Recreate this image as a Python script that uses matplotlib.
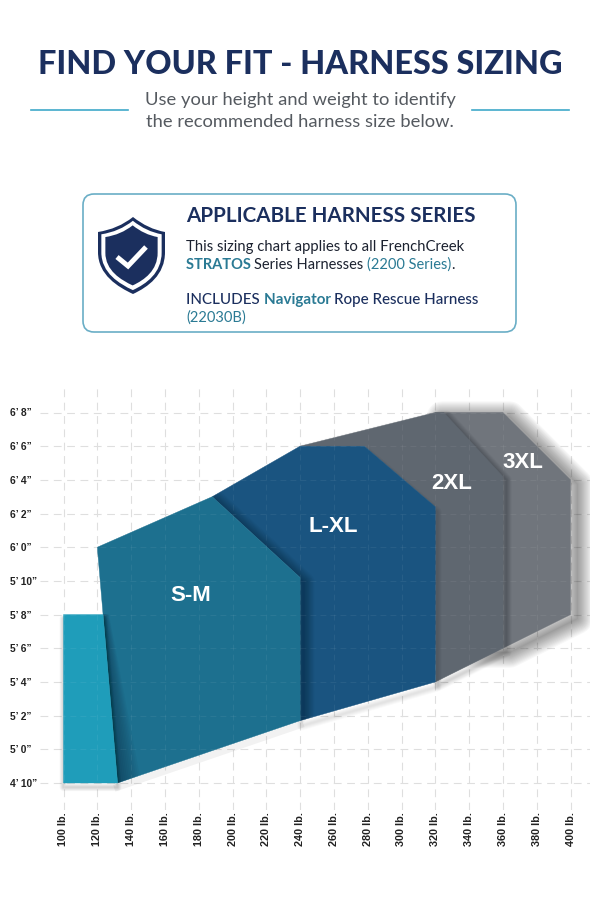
import matplotlib
matplotlib.use('Agg')
import numpy as np
import matplotlib.pyplot as plt
from matplotlib.patches import Polygon, FancyBboxPatch, PathPatch
from matplotlib.path import Path

# chart values, weight in lb and height in inches
weight_ticks = list(range(100, 401, 20))
weight_labels = [str(w) + ' lb.' for w in weight_ticks]
height_ticks = list(range(58, 81, 2))
height_labels = ['4’ 10”', '5’ 0”', '5’ 2”', '5’ 4”', '5’ 6”', '5’ 8”', '5’ 10”',
                 '6’ 0”', '6’ 2”', '6’ 4”', '6’ 6”', '6’ 8”']

xs_weight = [100, 100, 123.4, 132]
xs_height = [58, 68, 68, 58]
sm_weight = [120, 188, 240, 240, 132]
sm_height = [72, 75, 70.2, 61.7, 58]
lxl_weight = [188, 240, 278, 320, 320, 240, 240]
lxl_height = [75, 78, 78, 74.4, 64, 61.7, 70.2]
xl2_weight = [240, 320, 325, 360, 360, 320, 320, 278]
xl2_height = [78, 80, 80, 76.2, 66, 64, 74.4, 78]
xl3_weight = [320, 360, 400, 400, 360, 320]
xl3_height = [80, 80, 76, 68, 66, 66]

NAVY = '#1b2f5e'
TEAL = '#2a7a94'
plt.rcParams['font.family'] = ['Lato', 'DejaVu Sans']

fig = plt.figure(figsize=(6, 9), dpi=100)

# chart axes, limits chosen so the grid runs past the plot area
px_lb = (570.5 - 63.5) / 300
px_in = (783 - 412.5) / 22
left, right, top, bottom = 40, 590, 385, 810
ax = fig.add_axes([left / 600, (900 - bottom) / 900, (right - left) / 600, (bottom - top) / 900])
ax.set_xlim(100 - (63.5 - left) / px_lb, 400 + (right - 570.5) / px_lb)
ax.set_ylim(58 - (bottom - 783) / px_in, 80 + (412.5 - top) / px_in)
for s in ax.spines.values():
    s.set_visible(False)
ax.set_xticks(weight_ticks)
ax.set_xticklabels(weight_labels, rotation=90, fontsize=7.8, fontweight='bold',
                   family='Liberation Sans', color='#222222')
ax.set_yticks(height_ticks)
ax.set_yticklabels(height_labels, fontsize=7.4, fontweight='bold', ha='left',
                   family='Liberation Sans', color='#222222')
ax.tick_params(length=0)
ax.tick_params(axis='y', pad=21.6)
ax.tick_params(axis='x', pad=1.5)
ax.set_axisbelow(True)
ax.grid(True, color='#dedede', lw=0.8, dashes=(7, 5))


def draw_shape(wts, hts, color, z, shadow_w, dx=2, dy=-0.15, shadow_a=0.012, clip=None):
    pts = np.column_stack([wts, hts])
    shifted = pts + [dx, dy]
    # soft shadow made of stacked wide outlines
    for w in np.linspace(shadow_w, 1, 14):
        p = Polygon(shifted, closed=True, fill=False, ec='black', lw=w,
                    alpha=shadow_a, zorder=z, joinstyle='round')
        ax.add_patch(p)
        if clip is not None:
            p.set_clip_path(Polygon(np.column_stack(clip), closed=True, transform=ax.transData))
    ax.add_patch(Polygon(pts, closed=True, fc=color, ec=color, lw=0.3, zorder=z + 0.5))


draw_shape(xl3_weight, xl3_height, '#70757c', 2, 22, dx=4, dy=-0.25, shadow_a=0.03)
draw_shape(xl2_weight, xl2_height, '#5f6770', 3, 8, dx=2, dy=-0.2)
draw_shape(lxl_weight, lxl_height, '#1a5480', 4, 7, dx=1, dy=-0.3, shadow_a=0.008)
draw_shape(sm_weight, sm_height, '#1d708f', 5, 16, dx=2, dy=-0.3, shadow_a=0.02,
           clip=(lxl_weight, lxl_height))
# faint shadow under the S-M bottom edge, on the white
ax.plot(sm_weight[3:], np.array(sm_height[3:]) - 0.25, color='black', lw=5, alpha=0.05, zorder=4.9)
draw_shape(xs_weight, xs_height, '#1f9dba', 6, 6, dx=0, dy=-0.25)

# dark wedge that the small block throws on S-M, wider toward the bottom
sm_clip = Polygon(np.column_stack([sm_weight, sm_height]), closed=True, transform=ax.transData)
for k in np.linspace(1, 14, 12):
    wedge = Polygon([(xs_weight[2], xs_height[2]), (xs_weight[3], xs_height[3]),
                     (xs_weight[3] + k, xs_height[3]), (xs_weight[2] + k * 0.25, xs_height[2])],
                    closed=True, fc='#0a2a40', ec='none', alpha=0.05, zorder=5.7)
    ax.add_patch(wedge)
    wedge.set_clip_path(sm_clip)

# faint grid showing through the shapes
for w in weight_ticks:
    ax.axvline(w, color='white', lw=0.6, alpha=0.07, zorder=8, dashes=(7, 5))
for h in height_ticks:
    ax.axhline(h, color='white', lw=0.6, alpha=0.07, zorder=8, dashes=(7, 5))

size_opts = dict(color='white', fontsize=16, fontweight='bold', ha='center', va='center',
                 family='Liberation Sans', zorder=9)
ax.text(175, 69.16, 'S-M', **size_opts)
ax.text(259.5, 73.26, 'L-XL', **size_opts)
ax.text(329.9, 75.81, '2XL', **size_opts)
ax.text(371.9, 77.06, '3XL', **size_opts)

# overlay in pixel units for the header and info box
ov = fig.add_axes([0, 0, 1, 1], facecolor='none')
ov.set_xlim(0, 600)
ov.set_ylim(900, 0)
ov.axis('off')

ov.text(300, 65, 'FIND YOUR FIT - HARNESS SIZING', color=NAVY, fontsize=23.4,
        fontweight='black', ha='center', va='center')
ov.text(300, 100, 'Use your height and weight to identify', color='#555a60', fontsize=13.2,
        ha='center', va='center')
ov.text(300, 122, 'the recommended harness size below.', color='#555a60', fontsize=13.2,
        ha='center', va='center')
ov.plot([31, 128], [110, 110], color='#3fa9c9', lw=1.2)
ov.plot([472, 569], [110, 110], color='#3fa9c9', lw=1.2)

ov.add_patch(FancyBboxPatch((83, 194), 433, 138, boxstyle='round,pad=0,rounding_size=11',
                            fc='white', ec='#6aaec6', lw=1.2))


def run_line(x, y, runs, size):
    # one line of text with several colours
    rend = fig.canvas.get_renderer()
    for txt, col, weight in runs:
        ov.text(x, y, txt, color=col, fontsize=size, fontweight=weight, va='center', ha='left')
        a = ov.text(0, 0, txt + '|', fontsize=size, fontweight=weight, alpha=0)
        b = ov.text(0, 0, '|', fontsize=size, fontweight=weight, alpha=0)
        x += a.get_window_extent(rend).width - b.get_window_extent(rend).width
        a.remove()
        b.remove()


ov.text(186, 216, 'APPLICABLE HARNESS SERIES', color=NAVY, fontsize=14.9, fontweight='bold',
        va='center')
run_line(186, 247, [('This sizing chart applies to all FrenchCreek', '#1c2230', 'normal')], 10.7)
run_line(186, 265, [('STRATOS ', TEAL, 'bold'), ('Series Harnesses ', '#1c2230', 'normal'),
                    ('(2200 Series)', TEAL, 'normal'), ('.', '#1c2230', 'normal')], 10.5)
run_line(186, 300, [('INCLUDES ', NAVY, 'medium'), ('Navigator ', TEAL, 'bold'),
                    ('Rope Rescue Harness', NAVY, 'medium')], 10.9)
run_line(186, 318, [('(22030B)', TEAL, 'normal')], 10.5)

# shield icon
shield = Path(
    np.array([(133, 217), (148, 229), (165, 232), (165, 252), (165, 275), (148, 287), (133, 294),
              (118, 287), (98, 275), (98, 252), (98, 232), (118, 229), (133, 217)], dtype=float),
    [Path.MOVETO, Path.CURVE3, Path.CURVE3, Path.LINETO, Path.CURVE4, Path.CURVE4, Path.CURVE4,
     Path.CURVE4, Path.CURVE4, Path.CURVE4, Path.LINETO, Path.CURVE3, Path.CURVE3])
for scale, col in [(1, NAVY), (0.9, 'white'), (0.78, NAVY)]:
    v = (shield.vertices - [131.5, 255]) * scale + [131.5, 255]
    ov.add_patch(PathPatch(Path(v, shield.codes), fc=col, ec='none'))
ov.plot([117, 128, 146], [257, 266, 247], color='white', lw=3.6, solid_capstyle='butt',
        solid_joinstyle='miter')

fig.savefig('out.png', dpi=100, facecolor='white')
